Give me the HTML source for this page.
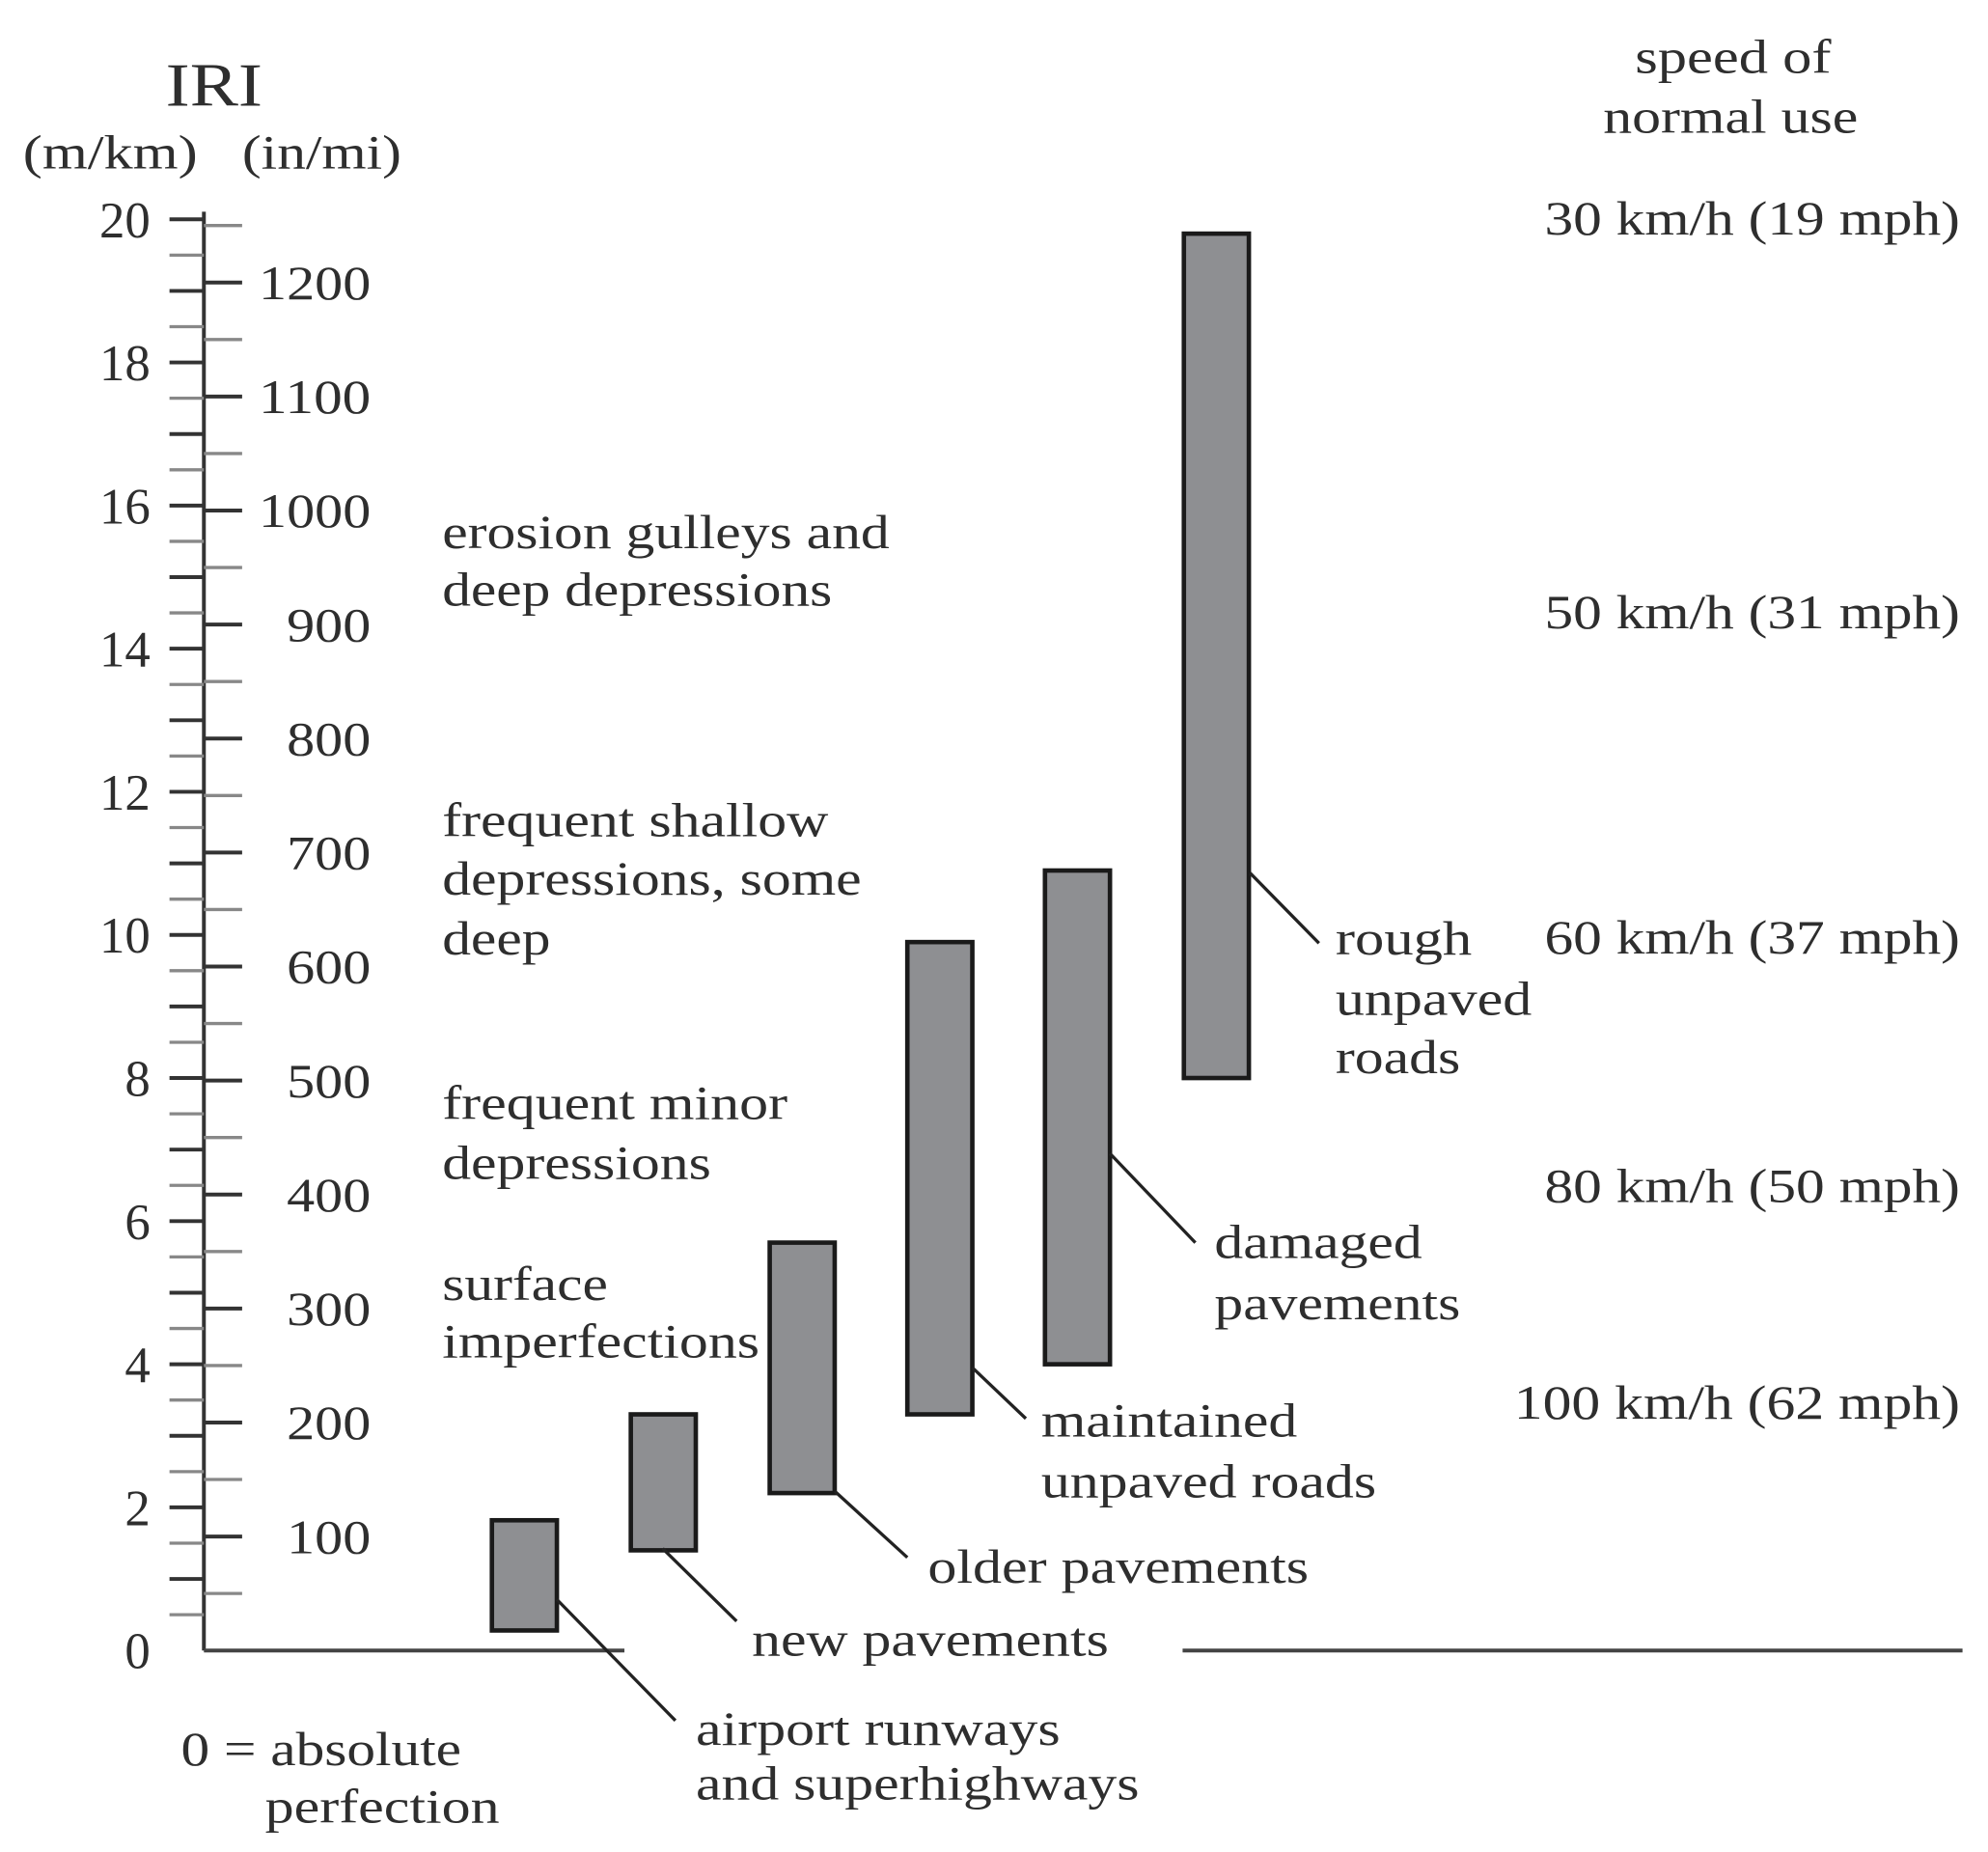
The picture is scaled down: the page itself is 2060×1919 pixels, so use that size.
<!DOCTYPE html>
<html><head><meta charset="utf-8"><style>
html,body{margin:0;padding:0;background:#fff}
svg{display:block}
text{font-family:"Liberation Serif","DejaVu Serif",serif;fill:#2e2e2e;font-size:38px}
</style></head><body>
<svg id="c" width="2060" height="1919" viewBox="0 0 1560 1453" xmlns="http://www.w3.org/2000/svg">
<g id="axes"></g>
<g id="bars"></g>
<g id="labels"></g>
</svg>
<script>
// data
const categories = ["airport runways and superhighways","new pavements","older pavements","maintained unpaved roads","damaged pavements","rough unpaved roads"];
const lowValues = [0.28, 1.4, 2.2, 3.3, 4.0, 8.0];
const highValues = [1.82, 3.3, 5.7, 9.9, 10.9, 19.8];
const mkmTickLabels = [0,2,4,6,8,10,12,14,16,18,20];
const inmiTickLabels = [100,200,300,400,500,600,700,800,900,1000,1100,1200];
const speedLabels = ["30 km/h (19 mph)","50 km/h (31 mph)","60 km/h (37 mph)","80 km/h (50 mph)","100 km/h (62 mph)"];

const NS="http://www.w3.org/2000/svg";
const X0=160, Y0=1295, PX=56.15, PI=0.8945;
const yM=v=>Y0-v*PX;
const yI=v=>Y0-v*PI;
function el(tag,attrs,parent){const e=document.createElementNS(NS,tag);for(const k in attrs)e.setAttribute(k,attrs[k]);parent.appendChild(e);return e;}
function txt(s,x,y,w,parent,anchor){const t=el('text',{x:x,y:y},parent);if(w){t.setAttribute('textLength',w);t.setAttribute('lengthAdjust','spacingAndGlyphs');}if(anchor)t.setAttribute('text-anchor',anchor);t.textContent=s;return t;}

const ax=document.getElementById('axes');
let l=el('line',{x1:X0,y1:166,x2:X0,y2:Y0,stroke:'#333','stroke-width':3},ax);


l=el('line',{x1:X0,y1:Y0,x2:490,y2:Y0,stroke:'#444','stroke-width':3},ax);


l=el('line',{x1:928,y1:Y0,x2:1540,y2:Y0,stroke:'#444','stroke-width':3},ax);


for(let v=0.5;v<=20;v+=0.5){
  const major=Number.isInteger(v);
  const t=el('line',{x1:133,y1:yM(v),x2:X0,y2:yM(v),stroke:major?'#333':'#888','stroke-width':major?3:2.5},ax);
  
  
}
for(let v=50;v<=1250;v+=50){
  const major=v%100===0;
  const t=el('line',{x1:X0,y1:yI(v),x2:190,y2:yI(v),stroke:major?'#333':'#888','stroke-width':major?3:2.5},ax);
  
  
}
mkmTickLabels.forEach(v=>{
  const t=txt(String(v),118,yM(v)+14,null,ax,'end');
  t.setAttribute('style','font-size:40px');
  
  
});
inmiTickLabels.forEach(v=>{
  const t=txt(String(v),291,yI(v)+13,String(v).length*22,ax,'end');
  
  
});

const bx=[386,495,604,712,820,929];
const bw=51;
const bg=document.getElementById('bars');
categories.forEach((c,i)=>{
  const r=el('rect',{x:bx[i],y:yM(highValues[i]),width:bw,height:yM(lowValues[i])-yM(highValues[i]),fill:'#8e8f92',stroke:'#1a1a1a','stroke-width':3.5},bg);
  
  
});
const leaders=[[437,1255,530,1350],[520,1215,578,1272],[655,1170,712,1222],[763,1073,805,1113],[871,905,938,975],[981,685,1035,740]];
leaders.forEach(p=>{
  const ln=el('line',{x1:p[0],y1:p[1],x2:p[2],y2:p[3],stroke:'#222','stroke-width':2.5},bg);
  
  
});

const lb=document.getElementById('labels');
const items=[
 ["IRI",130,67,76,48],["(m/km)",18,120,137],["(in/mi)",190,120,125],
 ["speed of",1283,45,154],["normal use",1258,92,200],
 ["erosion gulleys and",347,418,351],["deep depressions",347,463,306],
 ["frequent shallow",347,644,303],["depressions, some",347,690,329],["deep",347,737,85],
 ["frequent minor",347,866,271],["depressions",347,913,211],
 ["surface",347,1008,130],["imperfections",347,1053,249],
 ["airport runways",546,1357,286],["and superhighways",546,1400,348],
 ["new pavements",590,1287,280],["older pavements",728,1230,299],
 ["maintained",817,1115,201],["unpaved roads",817,1163,263],
 ["damaged",953,975,163],["pavements",953,1023,193],
 ["rough",1048,737,107],["unpaved",1048,784,154],["roads",1048,830,98],
 ["0 = absolute",142,1373,220],["perfection",208,1418,184]
];
items.forEach(it=>{
  const t=txt(it[0],it[1],it[2]+12,it[3],lb);
  if(it[4]){t.setAttribute('style','font-size:'+it[4]+'px');t.setAttribute('y',it[2]+16);}
  
  
});
const sy=[172,481,736,931,1101];
speedLabels.forEach((s,i)=>{
  const w=s.length===17?350:326;
  const t=txt(s,1538-w,sy[i]+12,w,lb);
  
  
});
</script>
</body></html>
